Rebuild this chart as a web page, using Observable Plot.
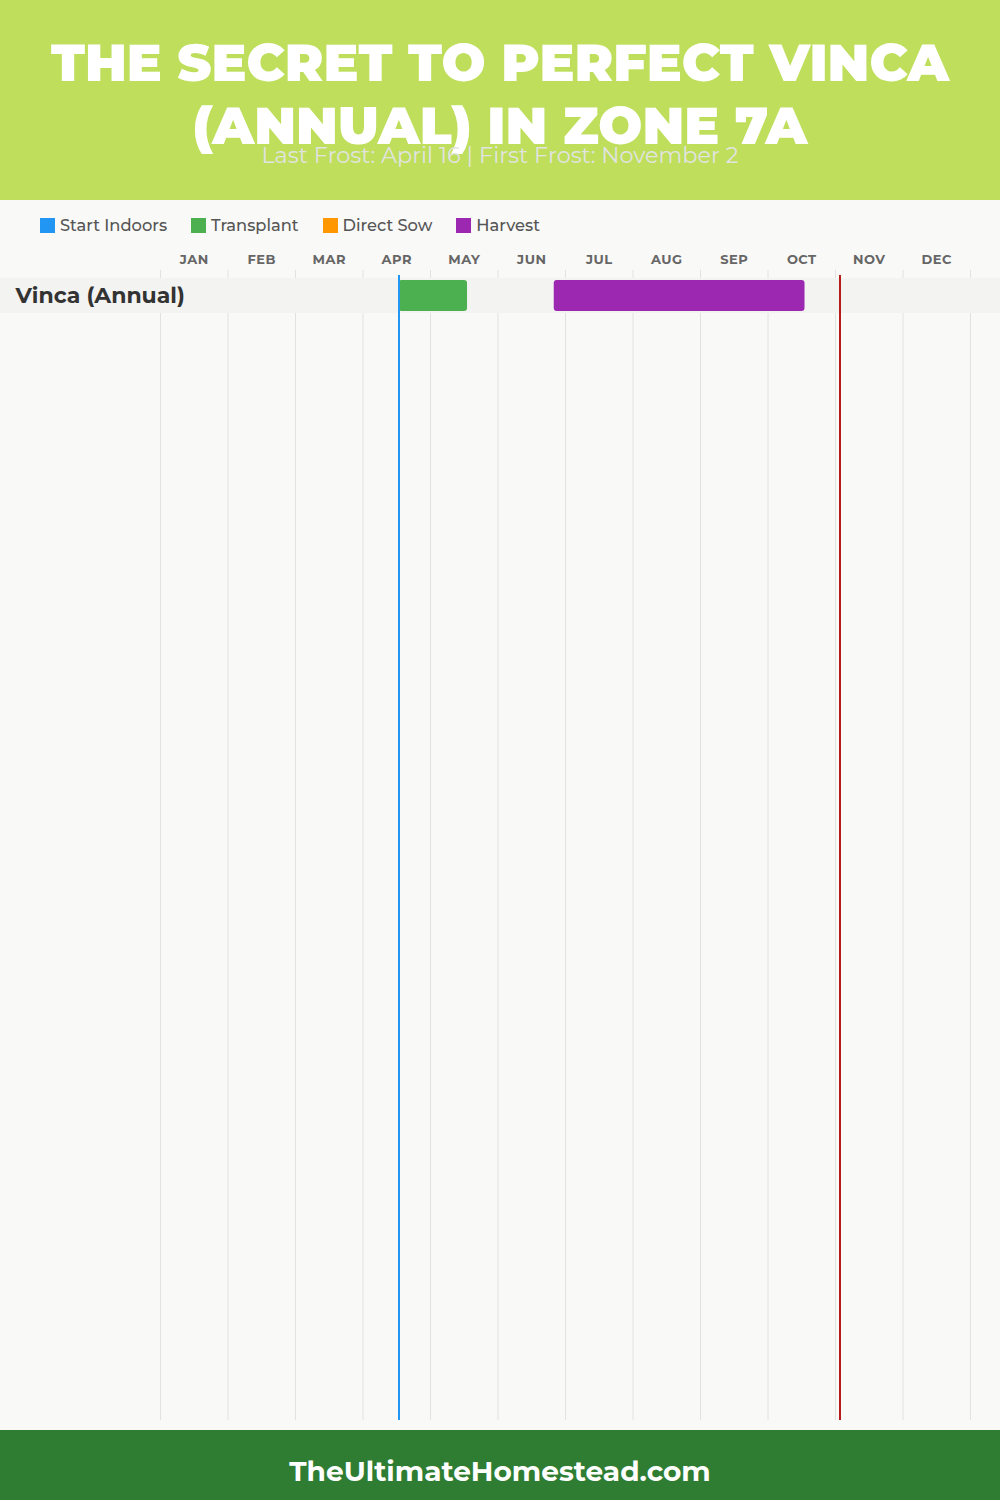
<!DOCTYPE html>
<html>
<head>
<meta charset="utf-8">
<script src="https://cdn.jsdelivr.net/npm/d3@7"></script>
<script src="https://cdn.jsdelivr.net/npm/@observablehq/plot@0.6"></script>
<style>
  html, body { margin:0; padding:0; }
  body { width:1000px; height:1500px; background:#F9F9F7; font-family: Montserrat, Inter, "Open Sans", sans-serif; position:relative; overflow:hidden; }
  #header { position:absolute; left:0; top:0; width:1000px; height:200px; background:#BEDE5C; }
  #title { position:absolute; left:0; width:1000px; top:31px; text-align:center; color:#fff; font-weight:900; font-size:52px; line-height:63px; }
  #subtitle { position:absolute; left:0; width:1000px; top:141px; text-align:center; color:#E2E4E0; font-size:22.4px; font-weight:400; }
  #legend { position:absolute; left:40px; top:215px; display:flex; gap:24px; font-size:16.3px; font-weight:500; color:#555; }
  #legend .item { display:flex; align-items:center; gap:5px; }
  #legend .sw { width:15px; height:15px; display:inline-block; }
  #chart { position:absolute; left:0; top:240px; }
  #footer { position:absolute; left:0; top:1430px; width:1000px; height:70px; background:#2E7D32; color:#fff; text-align:center; font-family:Montserrat, sans-serif; font-weight:700; font-size:28px; line-height:82px; }
  .months text { letter-spacing:0.5px; }
</style>
</head>
<body>
<div id="header">
  <div id="title">THE SECRET TO PERFECT VINCA<br>(ANNUAL) IN ZONE 7A</div>
  <div id="subtitle">Last Frost: April 16 | First Frost: November 2</div>
</div>
<div id="legend"></div>
<div id="chart"></div>
<div id="footer">TheUltimateHomestead.com</div>
<script>
const months = ["JAN","FEB","MAR","APR","MAY","JUN","JUL","AUG","SEP","OCT","NOV","DEC"];
const crops = ["Vinca (Annual)"];
const stages = ["Start Indoors","Transplant","Direct Sow","Harvest"];
const stageColors = ["#2196F3","#4CAF50","#FF9800","#9C27B0"];
const taskCrop = ["Vinca (Annual)","Vinca (Annual)"];
const taskStage = ["Transplant","Harvest"];
const taskStart = ["04-16","06-25"];
const taskEnd = ["05-17","10-17"];
const lastFrost = "04-16";
const firstFrost = "11-02";

const pos = s => { const [m,d] = s.split("-").map(Number); const dim = new Date(2023, m, 0).getDate(); return (m-1) + d/dim; };

const tasks = taskCrop.map((c,i) => ({crop:c, stage:taskStage[i], start:pos(taskStart[i]), end:pos(taskEnd[i])}));

// legend
const leg = document.getElementById("legend");
stages.forEach((s,i) => {
  const it = document.createElement("div"); it.className="item";
  it.innerHTML = `<span class="sw" style="background:${stageColors[i]}"></span><span>${s}</span>`;
  leg.appendChild(it);
});

const chart = Plot.plot({
  width:1000, height:1190,
  marginLeft:160, marginRight:30, marginTop:30, marginBottom:10,
  style:{background:"transparent", overflow:"visible", fontFamily:"Montserrat, Inter, sans-serif"},
  x:{domain:[0,12], axis:null},
  y:{domain:crops, range:[38,73], padding:0, axis:null},
  color:{domain:stages, range:stageColors},
  marks:[
    Plot.ruleX(d3.range(13), {stroke:"#E2E2E0", strokeWidth:1}),
    Plot.cell(crops, {y:d=>d, fill:"#F3F3F2", insetLeft:-160, insetRight:-30}),
    Plot.barX(tasks, {x1:"start", x2:"end", y:"crop", fill:"stage", insetTop:2, insetBottom:2, rx:3}),
    Plot.ruleX([pos(lastFrost)], {stroke:"#2196F3", strokeWidth:2, insetTop:5}),
    Plot.ruleX([pos(firstFrost)], {stroke:"#B71C1C", strokeWidth:2, insetTop:5}),
    Plot.text(months, {x:(d,i)=>i+0.5, text:d=>d, frameAnchor:"top", dy:-11, lineAnchor:"middle", fontSize:13, fontWeight:700, fill:"#666", className:"months"}),
    Plot.text(crops, {y:d=>d, text:d=>d, frameAnchor:"left", dx:-145, textAnchor:"start", fontSize:22, fontWeight:700, fill:"#333"})
  ]
});
document.getElementById("chart").appendChild(chart);
</script>
</body>
</html>
